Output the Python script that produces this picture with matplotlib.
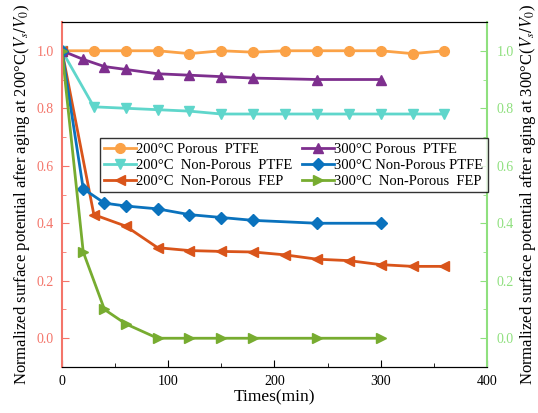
import matplotlib
matplotlib.use("Agg")
import matplotlib.pyplot as plt
from matplotlib.ticker import MultipleLocator

plt.rcParams['font.family'] = ['Liberation Serif', 'DejaVu Serif']
plt.rcParams['mathtext.fontset'] = 'stix'

# ================= DATA =================
t_200 = [0, 30, 60, 90, 120, 150, 180, 210, 240, 270, 300, 330, 360]
t_300 = [0, 20, 40, 60, 90, 120, 150, 180, 240, 300]

porous_200 = [1.0, 1.0, 1.0, 1.0, 0.99, 1.0, 0.995, 1.0, 1.0, 1.0, 1.0, 0.99, 1.0]
nonporous_ptfe_200 = [1.0, 0.805, 0.80, 0.795, 0.79, 0.78, 0.78, 0.78, 0.78, 0.78, 0.78, 0.78, 0.78]
nonporous_fep_200 = [1.0, 0.43, 0.39, 0.315, 0.305, 0.302, 0.30, 0.29, 0.275, 0.27, 0.256, 0.25, 0.25]

porous_300 = [1.0, 0.97, 0.945, 0.935, 0.92, 0.915, 0.91, 0.905, 0.90, 0.90]
nonporous_ptfe_300 = [1.0, 0.52, 0.47, 0.46, 0.45, 0.43, 0.42, 0.41, 0.40, 0.40]
nonporous_fep_300 = [1.0, 0.30, 0.10, 0.05, 0.0, 0.0, 0.0, 0.0, 0.0, 0.0]

labels = ["200°C Porous  PTFE", "200°C  Non-Porous  PTFE", "200°C  Non-Porous  FEP",
          "300°C Porous  PTFE", "300°C Non-Porous PTFE", "300°C  Non-Porous  FEP"]

LEFT_C = "#F4756A"
RIGHT_C = "#8FE07E"

# ================= PLOT =================
fig = plt.figure(figsize=(5.38, 4.13), dpi=100)
ax = fig.add_axes([0.1152, 0.1114, 0.79, 0.8353])

kw = dict(lw=2, ms=7)
handles = []
handles += ax.plot(t_200, porous_200, color="#FBA247", marker="o", **kw)
handles += ax.plot(t_200, nonporous_ptfe_200, color="#5FD6CB", marker="v", **kw)
handles += ax.plot(t_200, nonporous_fep_200, color="#D9541A", marker="<", **kw)
handles += ax.plot(t_300, porous_300, color="#7E2F8E", marker="^", **kw)
handles += ax.plot(t_300, nonporous_ptfe_300, color="#0A72BD", marker="D", lw=2, ms=6)
handles += ax.plot(t_300, nonporous_fep_300, color="#77AC30", marker=">", **kw)

ax.set_xlim(0, 400)
ax.set_ylim(-0.1, 1.1)
ax.xaxis.set_major_locator(MultipleLocator(100))
ax.xaxis.set_minor_locator(MultipleLocator(50))
ax.yaxis.set_major_locator(MultipleLocator(0.2))
ax.yaxis.set_minor_locator(MultipleLocator(0.1))
ax.yaxis.set_major_formatter(plt.FuncFormatter(lambda v, p: f"{v:.1f}"))
ax.tick_params(which="both", direction="in", labelsize=10, pad=6)
ax.tick_params(axis="y", which="both", colors=LEFT_C, labelcolor=LEFT_C)
ax.tick_params(which="major", length=5)
ax.tick_params(which="minor", length=3)
ax.spines["left"].set_color(LEFT_C)
ax.spines["left"].set_linewidth(1.5)
ax.spines["right"].set_visible(False)

ax.set_xlabel("Times(min)", fontsize=12.5, labelpad=1)
ax.set_ylabel("Normalized surface potential after aging at 200°C($V_s/V_0$)", fontsize=12, labelpad=3)

ax2 = ax.twinx()
ax2.set_ylim(-0.1, 1.1)
ax2.yaxis.set_major_locator(MultipleLocator(0.2))
ax2.yaxis.set_minor_locator(MultipleLocator(0.1))
ax2.yaxis.set_major_formatter(plt.FuncFormatter(lambda v, p: f"{v:.1f}"))
ax2.tick_params(which="both", direction="in", labelsize=10, pad=7, colors=RIGHT_C, labelcolor=RIGHT_C)
ax2.tick_params(which="major", length=5)
ax2.tick_params(which="minor", length=3)
ax2.spines["right"].set_color(RIGHT_C)
ax2.spines["right"].set_linewidth(1.5)
ax2.spines["left"].set_visible(False)
ax2.set_ylabel("Normalized surface potential after aging at 300°C($V_s/V_0$)", fontsize=12, labelpad=3)

leg = ax2.legend(handles, labels, ncol=2, loc="lower left", mode="expand",
                 bbox_to_anchor=(0.089, 0.506, 0.913, 0.16), fontsize=10.5,
                 frameon=True, fancybox=False, edgecolor="black", borderpad=0.3,
                 labelspacing=0.2, handlelength=2.2, handletextpad=0.0,
                 columnspacing=1.0, borderaxespad=0)
leg.get_frame().set_linewidth(1.0)

fig.savefig("out.png", dpi=100)
